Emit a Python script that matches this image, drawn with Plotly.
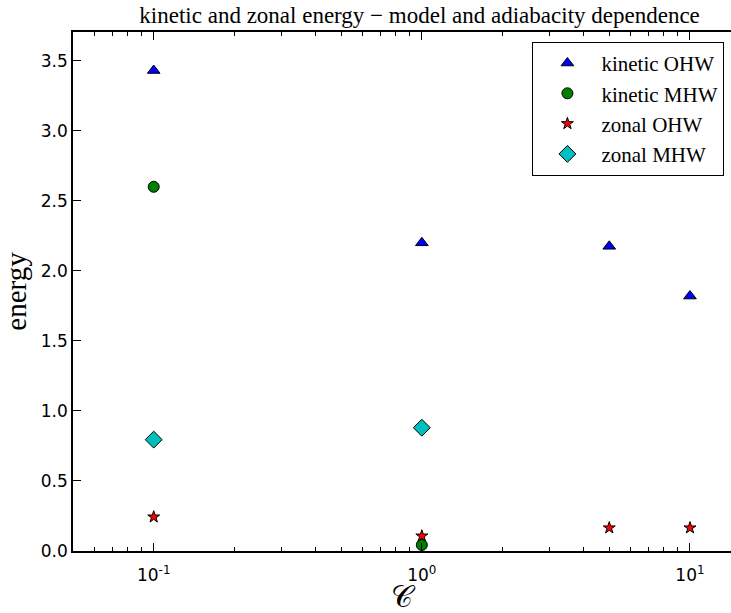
import plotly.graph_objects as go

# Adiabaticity parameter values and the energies measured at each
c_ohw = [0.1, 1.0, 5.0, 10.0]
c_mhw = [0.1, 1.0]

kinetic_ohw = [3.43, 2.20, 2.175, 1.82]
kinetic_mhw = [2.60, 0.043]
zonal_ohw = [0.243, 0.107, 0.165, 0.165]
zonal_mhw = [0.795, 0.88]

x_tickvals = [0.1, 1, 10]
x_ticktext = ["10<sup>-1</sup>", "10<sup>0</sup>", "10<sup>1</sup>"]
x_minor = [m * 10.0 ** e for e in (-2, -1, 0) for m in range(2, 10)]
y_tickvals = [0.0, 0.5, 1.0, 1.5, 2.0, 2.5, 3.0, 3.5]

serif = "Liberation Serif, DejaVu Serif, serif"
sans = "DejaVu Sans, sans-serif"

series = [
    ("kinetic OHW", c_ohw, kinetic_ohw, "triangle-up", "#0000ff", 11),
    ("kinetic MHW", c_mhw, kinetic_mhw, "circle", "#008000", 11),
    ("zonal OHW", c_ohw, zonal_ohw, "star", "#ff0000", 9),
    ("zonal MHW", c_mhw, zonal_mhw, "diamond", "#00bfbf", 13),
]

fig = go.Figure()
for name, xs, ys, sym, col, size in series:
    fig.add_trace(go.Scatter(
        x=xs, y=ys, mode="markers", name=name,
        marker=dict(symbol=sym, color=col, size=size,
                    line=dict(color="black", width=1)),
    ))

fig.update_layout(
    width=731, height=613,
    margin=dict(l=73, r=0, t=32, b=62),
    paper_bgcolor="white", plot_bgcolor="white",
    title=dict(text="kinetic and zonal energy − model and adiabacity dependence",
               x=0.574, xanchor="center", y=0.975, yanchor="middle",
               font=dict(family=serif, size=23, color="black")),
    legend=dict(x=0.99, xanchor="right", y=0.981, yanchor="top",
                bgcolor="white", bordercolor="black", borderwidth=1,
                font=dict(family=serif, size=21, color="black"),
                tracegroupgap=0, itemsizing="trace", itemwidth=58),
    showlegend=True,
)

fig.update_xaxes(
    type="log", range=[-1.301, 1.153],
    tickvals=x_tickvals, ticktext=x_ticktext,
    ticks="inside", ticklen=8, tickwidth=1, tickcolor="black",
    ticklabelstandoff=8,
    showline=True, linecolor="black", linewidth=1.5, mirror="allticks",
    showgrid=False, zeroline=False,
    minor=dict(tickvals=x_minor, ticks="inside", ticklen=4,
               tickcolor="black", showgrid=False),
    tickfont=dict(family=sans, size=17, color="black"),
    title=dict(text="𝒞", font=dict(family=serif, size=30, color="black"), standoff=2),
)
fig.update_yaxes(
    range=[0, 3.705],
    tickvals=y_tickvals, ticktext=[f"{v:.1f}" for v in y_tickvals],
    ticks="inside", ticklen=8, tickwidth=1, tickcolor="black",
    showline=True, linecolor="black", linewidth=1.5, mirror=False,
    showgrid=False, zeroline=False,
    tickfont=dict(family=sans, size=17, color="black"),
    title=dict(text="energy", font=dict(family=serif, size=29, color="black"), standoff=8),
)

fig.write_html("out.html")
